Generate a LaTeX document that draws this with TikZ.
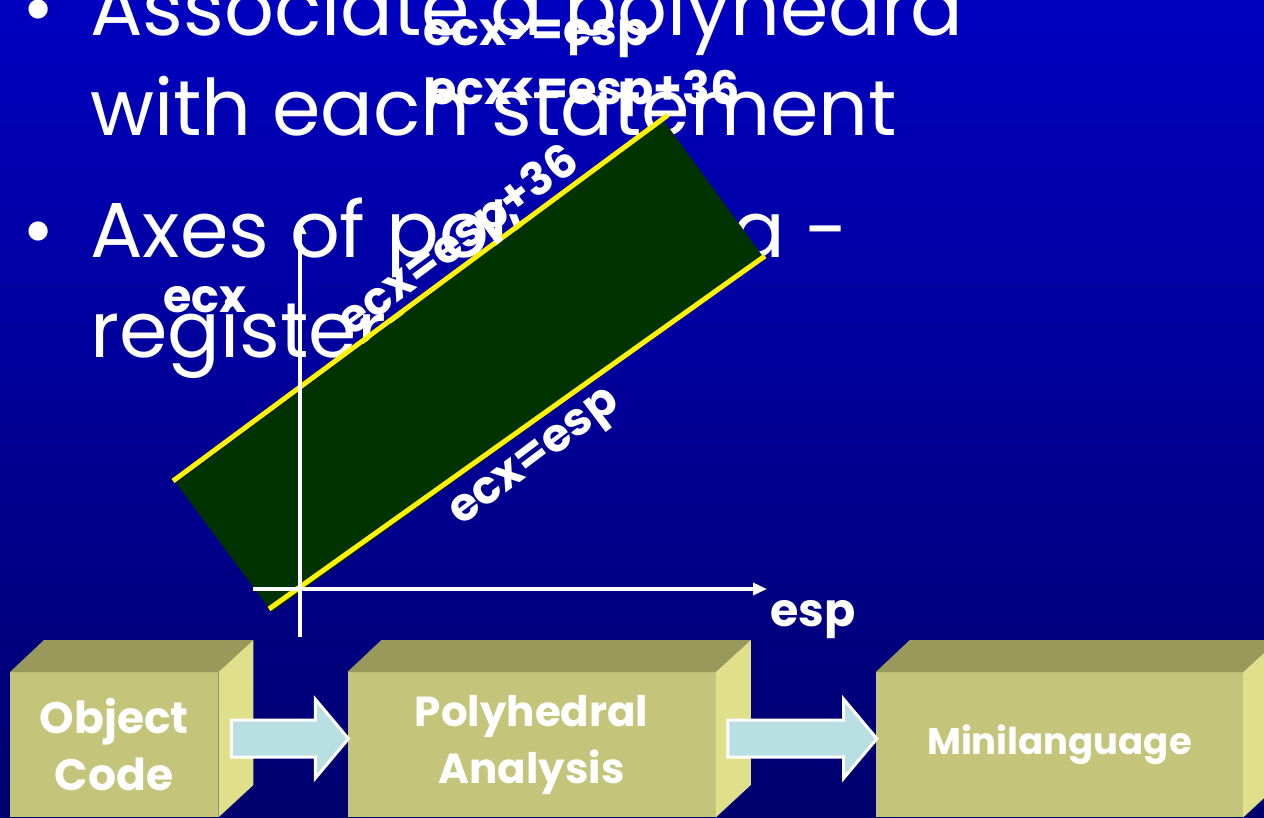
\documentclass[tikz,border=0pt]{standalone}
\usepackage{fontspec}
\setmainfont{Poppins}
\usetikzlibrary{shapes.arrows, positioning, arrows.meta}
\definecolor{slidetop}{RGB}{0,0,192}
\definecolor{slidebottom}{RGB}{0,0,110}
\definecolor{polygreen}{RGB}{0,51,0}
\definecolor{khakifront}{RGB}{196,196,122}
\definecolor{khakitop}{RGB}{153,153,92}
\definecolor{khakiside}{RGB}{224,224,138}
\definecolor{flowblue}{RGB}{184,223,226}

\begin{document}
\begin{tikzpicture}[
  x=1pt, y=-1pt,
  slide/.style={anchor=base west, text=white, inner sep=0pt, font=\fontsize{78}{100}\selectfont},
  regname/.style={text=white, inner sep=0pt, font=\bfseries\fontsize{46}{54}\selectfont},
  cube/.style={fill=khakifront, minimum height=145pt, anchor=north west, text=white, align=center, inner sep=0pt, font=\bfseries\fontsize{44}{57}\selectfont},
  cubetop/.style={fill=khakitop},
  cubeside/.style={fill=khakiside},
  flow/.style={single arrow, fill=flowblue, draw=white, line width=3pt, inner xsep=0pt, inner ysep=17pt, minimum height=117pt, minimum width=79pt, single arrow head extend=21pt, single arrow tip angle=100, anchor=tip},
  axis/.style={draw=white, line width=4pt, -{Triangle[length=14pt, width=12pt]}},
  bound/.style={draw=yellow, line width=5pt}
]
  \useasboundingbox (0,0) rectangle (1264,817);
  \clip (0,0) rectangle (1264,817);
  \shade[top color=slidetop, bottom color=slidebottom] (0,0) rectangle (1264,817);

  % slide text
  \node [slide] (dot1) at (22,35) {•};
  \node [slide] (line1) at (90,35) {Associate a polyhedra};
  \node [slide] (line2) at (90,135) {with each statement};
  \node [slide] (dot2) at (22,257) {•};
  \node [slide] (line3) at (90,257) {Axes of polyhedra -};
  \node [slide] (line4) at (90,357) {registers};

  % polyhedron
  \coordinate (pa) at (176,483);
  \coordinate (pb) at (664,121);
  \coordinate (pc) at (764,258);
  \coordinate (pd) at (272,612);
  \fill [polygreen] (pa) -- (pb) -- (pc) -- (pd) -- cycle;
  \coordinate (upA) at (173,481);
  \coordinate (upB) at (668,115);
  \coordinate (loA) at (269,609);
  \coordinate (loB) at (765,256);
  \draw [bound] (upA) -- (upB);
  \draw [bound] (loA) -- (loB);

  % axes
  \coordinate (espstart) at (253,589);
  \coordinate (espend) at (767,589);
  \coordinate (ecxstart) at (300,637);
  \coordinate (ecxend) at (300,220);
  \draw [axis] (espstart) -- (espend);
  \draw [axis] (ecxstart) -- (ecxend);

  \node [regname, anchor=base] (lowcon) at (536,45) {ecx>=esp};
  \node [regname, anchor=base] (highcon) at (584,104) {ecx<=esp+36};
  \node [regname, rotate=36.5] (highline) at (460,243) {ecx=esp+36};
  \node [regname, rotate=37] (lowline) at (537,461) {ecx=esp};
  \node [regname] (ecxname) at (205,300) {ecx};
  \node [regname] (espname) at (813,620) {esp};

  % pipeline
  \node [cube, minimum width=208pt] (objbox) at (10,672) {Object\\Code};
  \node [cube, minimum width=368pt, right=129pt of objbox, font=\bfseries\fontsize{42}{57}\selectfont] (polybox) {Polyhedral\\Analysis};
  \node [cube, minimum width=367pt, right=160pt of polybox, font=\bfseries\fontsize{37}{57}\selectfont] (minibox) {Minilanguage};
  \foreach \b in {objbox, polybox, minibox} {
    \fill [cubetop] (\b.north west) -- ++(34,-32) -- ([shift={(35,-32)}]\b.north east) -- (\b.north east) -- cycle;
    \fill [cubeside] (\b.north east) -- ++(35,-32) -- ++(0,145) -- (\b.south east) -- cycle;
  }

  \node [flow] (flow1) at ([shift={(3,-6)}]polybox.west) {};
  \node [flow, minimum height=149pt] (flow2) at ([shift={(3,-6)}]minibox.west) {};
\end{tikzpicture}
\end{document}
